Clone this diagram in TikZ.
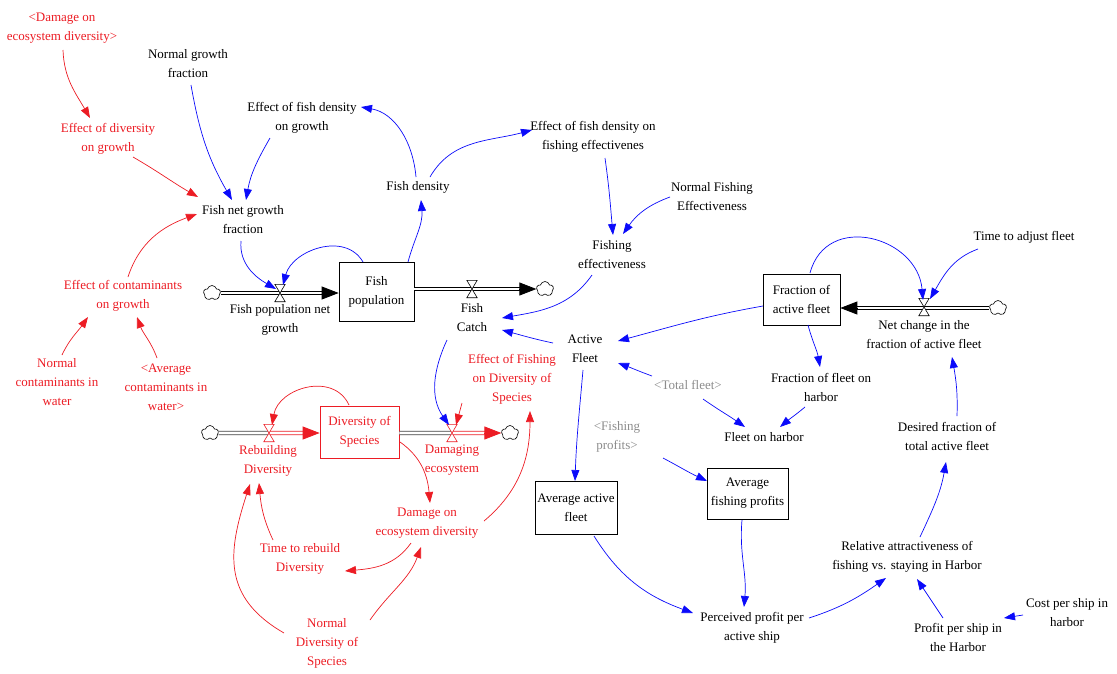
\documentclass[tikz,border=0pt]{standalone}
\usepackage{fontspec}
\setmainfont{Liberation Serif}
\usetikzlibrary{arrows.meta,shapes.symbols}
\definecolor{vred}{RGB}{236,28,36}
\definecolor{vblue}{RGB}{10,10,250}
\definecolor{vgray}{RGB}{140,140,140}
\begin{document}
\begin{tikzpicture}[x=1pt,y=1pt,
 lbl/.style={align=center, inner sep=1pt, font=\fontsize{13}{19}\selectfont},
 rlbl/.style={lbl, text=vred},
 glbl/.style={lbl, text=vgray},
 stock/.style={lbl, draw, line width=0.7pt, inner sep=0pt},
 rstock/.style={stock, draw=vred, text=vred},
 valvenode/.style={inner sep=0pt, minimum width=10pt, minimum height=17pt},
 cloudnode/.style={cloud, draw, cloud puffs=5, cloud puff arc=150, aspect=1.1, inner sep=0pt, minimum width=17pt, minimum height=15pt, line width=0.6pt, fill=white},
 ba/.style={draw=vblue, line width=0.7pt, -{Triangle[length=11pt,width=8pt]}},
 rarr/.style={draw=vred, line width=0.7pt, -{Triangle[length=11pt,width=8pt]}},
 pipe/.style={double=white, double distance=2.6pt, line width=0.9pt},
 pipetip/.style={line width=0.8pt, -{Triangle[length=17pt,width=13pt]}},
 valveline/.style={line width=0.6pt, fill=white}
]
\useasboundingbox (0,0) rectangle (1117,-673);

% ---------- labels ----------
\node[rlbl] (dmgsh) at (62,-28) {<Damage on\\ecosystem diversity>};
\node[lbl] (ngf) at (188,-64) {Normal growth\\fraction};
\node[lbl] (efdg) at (302,-118) {Effect of fish density\\on growth};
\node[rlbl] (edg) at (108,-139) {Effect of diversity\\on growth};
\node[lbl] (fngf) at (243,-220) {Fish net growth\\fraction};
\node[lbl] (fd) at (418,-187) {Fish density};
\node[lbl] (efdfe) at (593,-137) {Effect of fish density on\\fishing effectivenes};
\node[lbl] (nfe) at (712,-197) {Normal Fishing\\Effectiveness};
\node[lbl] (fe) at (612,-255) {Fishing\\effectiveness};
\node[lbl] (tafl) at (1024,-237) {Time to adjust fleet};
\node[rlbl] (ecg) at (123,-296) {Effect of contaminants\\on growth};
\node[rlbl] (ncw) at (57,-382) {Normal\\contaminants in\\water};
\node[rlbl] (acw) at (166,-387) {<Average\\contaminants in\\water>};
\node[stock, minimum width=75pt, minimum height=59pt] (fp) at (376.5,-291.5) {Fish\\population};
\node[lbl] (fpng) at (280,-320) {Fish population net\\growth};
\node[lbl] (fc) at (472,-318) {Fish\\Catch};
\node[lbl] (af) at (585,-349) {Active\\Fleet};
\node[stock, minimum width=77pt, minimum height=51pt] (faf) at (801.5,-299.5) {Fraction of\\active fleet};
\node[lbl] (ncf) at (924,-335) {Net change in the\\fraction of active fleet};
\node[rlbl] (efds) at (512,-379) {Effect of Fishing\\on Diversity of\\Species};
\node[glbl] (tf) at (688,-385) {<Total fleet>};
\node[lbl] (ffh) at (821,-387) {Fraction of fleet on\\harbor};
\node[lbl] (fh) at (764,-437) {Fleet on harbor};
\node[glbl] (fpr) at (617,-437) {<Fishing\\profits>};
\node[lbl] (dfta) at (947,-436) {Desired fraction of\\total active fleet};
\node[rstock, minimum width=79pt, minimum height=52pt] (ds) at (359.5,-432) {Diversity of\\Species};
\node[rlbl] (rd) at (268,-461) {Rebuilding\\Diversity};
\node[rlbl] (de) at (452,-460) {Damaging\\ecosystem};
\node[rlbl] (doed) at (427,-523) {Damage on\\ecosystem diversity};
\node[rlbl] (trd) at (300,-559) {Time to rebuild\\Diversity};
\node[rlbl] (nds) at (327,-643) {Normal\\Diversity of\\Species};
\node[stock, minimum width=82pt, minimum height=53pt] (aaf) at (576,-507.5) {Average active\\fleet};
\node[stock, minimum width=81pt, minimum height=51pt] (afp) at (747.5,-493.5) {Average\\fishing profits};
\node[lbl] (ppa) at (752,-628) {Perceived profit per\\active ship};
\node[lbl] (rel) at (907,-557) {Relative attractiveness of\\fishing vs. staying in Harbor};
\node[lbl] (pps) at (958,-637) {Profit per ship in\\the Harbor};
\node[lbl] (cps) at (1067,-613) {Cost per ship in\\harbor};

% ---------- clouds and valves ----------
\node[cloudnode] (c1) at (212,-293) {};
\node[cloudnode] (c2) at (545,-289) {};
\node[cloudnode] (c3) at (998,-308) {};
\node[cloudnode] (c4) at (210,-433) {};
\node[cloudnode] (c5) at (510,-433) {};
\node[valvenode] (v1) at (280,-293) {};
\node[valvenode] (v2) at (472,-289) {};
\node[valvenode] (v3) at (924,-307) {};
\node[valvenode] (v4) at (269,-433) {};
\node[valvenode] (v5) at (452,-433) {};

\coordinate (p1e) at (c1.east -| fp.west);
\coordinate (p2s) at (fp.east |- c2.west);
\coordinate (p3e) at (c3.west -| faf.east);
\coordinate (p4e) at (c4.east -| ds.west);
\coordinate (p5s) at (ds.east |- c5.west);

% ---------- pipes ----------
\draw[pipe] (c1.east) -- ([xshift=-8pt]p1e);
\draw[pipetip] ([xshift=-17pt]p1e) -- (p1e);
\draw[pipe] (p2s) -- ([xshift=-8pt]c2.west);
\draw[pipetip] ([xshift=-17pt]c2.west) -- (c2.west);
\draw[pipe] (c3.west) -- ([xshift=8pt]p3e);
\draw[pipetip] ([xshift=17pt]p3e) -- (p3e);
\draw[pipe, draw=black!75] (c4.east) -- (v4.center);
\draw[pipe, draw=vred] (v4.center) -- ([xshift=-8pt]p4e);
\draw[pipetip, draw=vred, fill=vred] ([xshift=-17pt]p4e) -- (p4e);
\draw[pipe, draw=black!75] (p5s) -- (v5.center);
\draw[pipe, draw=vred] (v5.center) -- ([xshift=-8pt]c5.west);
\draw[pipetip, draw=vred, fill=vred] ([xshift=-17pt]c5.west) -- (c5.west);

\foreach \v in {v1,v2,v3}
  \draw[valveline] (\v.north west) -- (\v.north east) -- (\v.south west) -- (\v.south east) -- cycle;
\foreach \v in {v4,v5}
  \draw[valveline, draw=vred] (\v.north west) -- (\v.north east) -- (\v.south west) -- (\v.south east) -- cycle;

% ---------- blue connectors ----------
\draw[ba] ([shift={(3,-21)}]ngf.center) to[out=-80,in=120] ([shift={(-11,20)}]fngf.center);
\draw[ba] ([shift={(-32,-20)}]efdg.center) to[out=-120,in=80] ([shift={(3,20)}]fngf.center);
\draw[ba] ([shift={(-2,-21)}]fngf.center) to[out=-95,in=150] ([shift={(-4,4)}]v1.center);
\draw[ba] ([shift={(-13.5,29.5)}]fp.center) to[out=120,in=75,looseness=1.1] ([shift={(3,8)}]v1.center);
\draw[ba] ([shift={(31.5,29.5)}]fp.center) to[out=75,in=-85] ([shift={(3,-13)}]fd.center);
\draw[ba] ([shift={(-2,10)}]fd.center) to[out=95,in=-10] ([shift={(59,11)}]efdg.center);
\draw[ba] ([shift={(12,10)}]fd.center) to[out=60,in=195] ([shift={(-61,7)}]efdfe.center);
\draw[ba] ([shift={(12,-21)}]efdfe.center) to[out=-82,in=95] ([shift={(1,20)}]fe.center);
\draw[ba] ([shift={(-42,0)}]nfe.center) to[out=200,in=55] ([shift={(11,21)}]fe.center);
\draw[ba] ([shift={(-20,-20)}]fe.center) to[out=-125,in=10] ([shift={(30,0)}]fc.center);
\draw[ba] ([shift={(-32,6)}]af.center) to[out=168,in=-15] ([shift={(30,-12)}]fc.center);
\draw[ba] ([shift={(-38.5,-6.5)}]faf.center) to[out=190,in=15] ([shift={(33,8)}]af.center);
\draw[ba] ([shift={(-36,9)}]tf.center) to[out=160,in=-20] ([shift={(33,-14)}]af.center);
\draw[ba] ([shift={(15,-14)}]tf.center) to[out=-35,in=145] ([shift={(-19,10)}]fh.center);
\draw[ba] ([shift={(-16,-20)}]ffh.center) to[out=-140,in=40] ([shift={(16,10)}]fh.center);
\draw[ba] ([shift={(6.5,-25.5)}]faf.center) to[out=-75,in=100] ([shift={(-1,20)}]ffh.center);
\draw[ba] ([shift={(8.5,26.5)}]faf.center) to[out=75,in=95,looseness=1.4] ([shift={(-1,7)}]v3.center);
\draw[ba] ([shift={(-46,-12)}]tafl.center) to[out=200,in=60] ([shift={(6,8)}]v3.center);
\draw[ba] ([shift={(10,20)}]dfta.center) to[out=88,in=-80] ([shift={(28,-22)}]ncf.center);
\draw[ba] ([shift={(-2,-21)}]af.center) to[out=-95,in=88] ([shift={(-1,26.5)}]aaf.center);
\draw[ba] ([shift={(46,-21)}]fpr.center) to[out=-28,in=155] ([shift={(-40.5,12.5)}]afp.center);
\draw[ba] ([shift={(18,-28.5)}]aaf.center) to[out=-58,in=160] ([shift={(-59,15)}]ppa.center);
\draw[ba] ([shift={(-5.5,-26.5)}]afp.center) to[out=-95,in=85] ([shift={(-8,21)}]ppa.center);
\draw[ba] ([shift={(57,10)}]ppa.center) to[out=18,in=-145] ([shift={(-21,-21)}]rel.center);
\draw[ba] ([shift={(-15,19)}]pps.center) -- ([shift={(10,-22)}]rel.center);
\draw[ba] ([shift={(-44,-2)}]cps.center) -- ([shift={(46,19)}]pps.center);
\draw[ba] ([shift={(13,20)}]rel.center) to[out=65,in=-100] ([shift={(-1,-26)}]dfta.center);
\draw[ba] ([shift={(-25,-22)}]fc.center) to[out=-115,in=125] ([shift={(-3,8)}]v5.center);

% ---------- red connectors ----------
\draw[rarr] ([shift={(1,-22)}]dmgsh.center) to[out=-88,in=120] ([shift={(-18,21)}]edg.center);
\draw[rarr] ([shift={(25,-18)}]edg.center) to[out=-30,in=150] ([shift={(-45,23)}]fngf.center);
\draw[rarr] ([shift={(5,19)}]ecg.center) to[out=72,in=200] ([shift={(-46,6)}]fngf.center);
\draw[rarr] ([shift={(5,27)}]ncw.center) to[out=65,in=-125] ([shift={(-35,-21)}]ecg.center);
\draw[rarr] ([shift={(-9,29)}]acw.center) to[out=110,in=-70] ([shift={(14,-21)}]ecg.center);
\draw[rarr] ([shift={(-10.5,27)}]ds.center) to[out=115,in=80,looseness=1.2] ([shift={(3,8)}]v4.center);
\draw[rarr] ([shift={(40.5,-10)}]ds.center) to[out=-35,in=95] ([shift={(3,20)}]doed.center);
\draw[rarr] ([shift={(-16,-20)}]doed.center) to[out=-125,in=5] ([shift={(45,-12)}]trd.center);
\draw[rarr] ([shift={(57,2)}]doed.center) to[out=40,in=-90] ([shift={(18,-32)}]efds.center);
\draw[rarr] ([shift={(-50,-24)}]efds.center) -- ([shift={(4,8)}]v5.center);
\draw[rarr] ([shift={(-27,19)}]trd.center) to[out=115,in=-85] ([shift={(-9,-22)}]rd.center);
\draw[rarr] ([shift={(-43,10)}]nds.center) to[out=150,in=-108,looseness=1.2] ([shift={(-18,-23)}]rd.center);
\draw[rarr] ([shift={(43,23)}]nds.center) to[out=55,in=-110] ([shift={(-6,-24)}]doed.center);
\end{tikzpicture}
\end{document}
